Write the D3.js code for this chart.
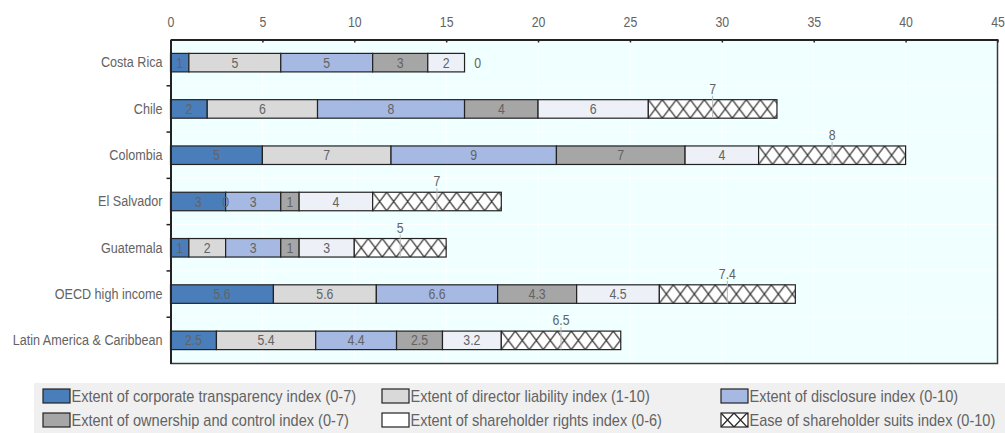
<!DOCTYPE html>
<html>
<head>
<meta charset="utf-8">
<script src="https://cdn.jsdelivr.net/npm/d3@7/dist/d3.min.js"></script>
<style>
  html, body { margin: 0; padding: 0; background: #ffffff; }
  svg { display: block; }
  text { font-family: "Liberation Sans", Arial, sans-serif; }
</style>
</head>
<body>
<svg id="chart" width="1005" height="433"></svg>
<script>
// Economies, top to bottom
const categories = ["Costa Rica", "Chile", "Colombia", "El Salvador", "Guatemala", "OECD high income", "Latin America & Caribbean"];

// Index scores per economy
const transparency = [1, 2, 5, 3, 1, 5.6, 2.5];
const directorLiability = [5, 6, 7, 0, 2, 5.6, 5.4];
const disclosure = [5, 8, 9, 3, 3, 6.6, 4.4];
const ownership = [3, 4, 7, 1, 1, 4.3, 2.5];
const shareholderRights = [2, 6, 4, 4, 3, 4.5, 3.2];
const shareholderSuits = [0, 7, 8, 7, 5, 7.4, 6.5];

const seriesNames = [
  "Extent of corporate transparency index (0-7)",
  "Extent of director liability index (1-10)",
  "Extent of disclosure index (0-10)",
  "Extent of ownership and control index (0-7)",
  "Extent of shareholder rights index (0-6)",
  "Ease of shareholder suits index (0-10)"
];
const xTicks = [0, 5, 10, 15, 20, 25, 30, 35, 40, 45];

const seriesValues = [transparency, directorLiability, disclosure, ownership, shareholderRights, shareholderSuits];
const fills = ["#4a7ebb", "#d9d9d9", "#a6b9e3", "#a6a6a6", "#eef0f8", "hatch"];
const textColor = "#636363";

const svg = d3.select("#chart");
const plotLeft = 170.5, plotRight = 997.5, plotTop = 39.5, plotBottom = 363.5;

const x = d3.scaleLinear().domain([0, 45]).range([plotLeft, plotRight]);
const y = d3.scaleBand().domain(categories).range([plotTop, plotBottom]).paddingInner(0.6).paddingOuter(0.3);

// Narrow lettering: squeeze text horizontally around its anchor point
function condense(sel, sx) {
  sel.each(function () {
    const t = d3.select(this);
    const tx = +t.attr("x") || 0, ty = +t.attr("y") || 0;
    t.attr("transform", `translate(${tx},${ty}) scale(${sx},1)`).attr("x", 0).attr("y", 0);
  });
}

const defs = svg.append("defs");

// Plot background
svg.append("rect")
  .attr("x", plotLeft).attr("y", plotTop)
  .attr("width", plotRight - plotLeft).attr("height", plotBottom - plotTop)
  .attr("fill", "#f0ffff");

// Vertical grid
svg.append("g").selectAll("line").data(xTicks.slice(1, -1)).join("line")
  .attr("x1", d => x(d)).attr("x2", d => x(d))
  .attr("y1", plotTop).attr("y2", plotBottom)
  .attr("stroke", "#ffffff").attr("stroke-width", 1);

// Horizontal grid at band boundaries
const boundaries = d3.range(1, categories.length).map(i => plotTop + i * y.step());
svg.append("g").selectAll("line").data(boundaries).join("line")
  .attr("x1", plotLeft).attr("x2", plotRight)
  .attr("y1", d => d).attr("y2", d => d)
  .attr("stroke", "#ffffff").attr("stroke-width", 1);

// Stack the series
const rows = categories.map((c, i) => {
  let acc = 0;
  return seriesValues.map((arr, s) => {
    const v = arr[i];
    const seg = { cat: c, series: s, value: v, x0: acc, x1: acc + v, row: i };
    acc += v;
    return seg;
  });
});
const segments = rows.flat();

// Cross-hatch patterns, one per row so the lattice lines up with each bar
const hatchW = 14, hatchH = y.bandwidth();
categories.forEach((c, i) => {
  const seg = rows[i][5];
  const p = defs.append("pattern")
    .attr("id", "hatch" + i)
    .attr("patternUnits", "userSpaceOnUse")
    .attr("x", x(seg.x0)).attr("y", y(c))
    .attr("width", hatchW).attr("height", hatchH);
  p.append("rect").attr("width", hatchW).attr("height", hatchH).attr("fill", "#ffffff");
  p.append("path")
    .attr("d", `M0,0L${hatchW},${hatchH}M${hatchW},0L0,${hatchH}`)
    .attr("stroke", "#2a2a2a").attr("stroke-width", 1.2).attr("fill", "none");
});
const lp = defs.append("pattern")
  .attr("id", "hatchLegend").attr("patternUnits", "userSpaceOnUse")
  .attr("x", 0).attr("y", 0).attr("width", 13).attr("height", 14);
lp.append("rect").attr("width", 13).attr("height", 14).attr("fill", "#ffffff");
lp.append("path").attr("d", "M0,0L13,14M13,0L0,14").attr("stroke", "#2a2a2a").attr("stroke-width", 1.3);

// Bars
svg.append("g").selectAll("rect").data(segments).join("rect")
  .attr("x", d => x(d.x0))
  .attr("y", d => y(d.cat))
  .attr("width", d => x(d.x1) - x(d.x0))
  .attr("height", y.bandwidth())
  .attr("fill", d => d.series === 5 ? `url(#hatch${d.row})` : fills[d.series])
  .attr("stroke", "#222222").attr("stroke-width", 1.2);

// Leader marks at the centre of the shareholder-suits segment
svg.append("g").selectAll("line").data(segments.filter(d => d.series === 5 && d.value > 0)).join("line")
  .attr("x1", d => x((d.x0 + d.x1) / 2)).attr("x2", d => x((d.x0 + d.x1) / 2))
  .attr("y1", d => y(d.cat) - 4).attr("y2", d => y(d.cat) + y.bandwidth())
  .attr("stroke", "#b8b8b8").attr("stroke-width", 1);

// Value labels inside bars
svg.append("g").selectAll("text").data(segments.filter(d => d.series < 5)).join("text")
  .attr("x", d => x((d.x0 + d.x1) / 2))
  .attr("y", d => y(d.cat) + y.bandwidth() / 2)
  .attr("dy", "0.36em")
  .attr("text-anchor", "middle")
  .attr("font-size", 14)
  .attr("fill", textColor)
  .text(d => d.value)
  .call(condense, 0.88);

// Shareholder-suits labels above the segment (or after the bar when zero)
svg.append("g").selectAll("text").data(segments.filter(d => d.series === 5)).join("text")
  .attr("x", d => d.value > 0 ? x((d.x0 + d.x1) / 2) : x(d.x1) + 13)
  .attr("y", d => d.value > 0 ? y(d.cat) - 6 : y(d.cat) + y.bandwidth() / 2)
  .attr("dy", d => d.value > 0 ? "0" : "0.36em")
  .attr("text-anchor", "middle")
  .attr("font-size", 14)
  .attr("fill", textColor)
  .text(d => d.value)
  .call(condense, 0.88);

// Frame: right and bottom edges
svg.append("path")
  .attr("d", `M${plotRight},${plotTop}V${plotBottom}H${plotLeft}`)
  .attr("fill", "none").attr("stroke", "#3a3a3a").attr("stroke-width", 1.5);

// Top axis
const xAxis = svg.append("g")
  .attr("transform", `translate(0,${plotTop})`)
  .call(d3.axisTop(x).tickValues(xTicks).tickSize(-3).tickSizeOuter(0).tickPadding(13));
xAxis.select(".domain").attr("stroke", "#222").attr("stroke-width", 2);
xAxis.selectAll(".tick line").attr("stroke", "#222").attr("stroke-width", 1.5);
xAxis.selectAll(".tick text")
  .attr("font-size", 14).attr("fill", textColor)
  .style("font-family", "\"Liberation Sans\", Arial, sans-serif")
  .call(condense, 0.88);

// Left axis: labels at band centres, ticks at band boundaries
const yAxis = svg.append("g")
  .attr("transform", `translate(${plotLeft},0)`)
  .call(d3.axisLeft(y).tickSize(0).tickPadding(8));
yAxis.select(".domain").attr("stroke", "#222").attr("stroke-width", 2);
yAxis.selectAll(".tick text")
  .attr("font-size", 15).attr("fill", textColor)
  .style("font-family", "\"Liberation Sans\", Arial, sans-serif")
  .call(condense, 0.84);
svg.append("g").selectAll("line").data(boundaries).join("line")
  .attr("x1", plotLeft - 4).attr("x2", plotLeft)
  .attr("y1", d => d).attr("y2", d => d)
  .attr("stroke", "#222").attr("stroke-width", 1.5);

// Legend
const legend = svg.append("g");
legend.append("rect")
  .attr("x", 34).attr("y", 383).attr("width", 971).attr("height", 50)
  .attr("fill", "#f0f0f0");
const colX = [43, 382, 721];
const rowY = [389, 413];
const items = legend.selectAll("g.item").data(seriesNames).join("g")
  .attr("class", "item")
  .attr("transform", (d, i) => `translate(${colX[i % 3]},${rowY[Math.floor(i / 3)]})`);
items.append("rect")
  .attr("width", 27).attr("height", 14)
  .attr("fill", (d, i) => i === 5 ? "url(#hatchLegend)" : (i === 4 ? "#ffffff" : fills[i]))
  .attr("stroke", "#222").attr("stroke-width", 1.2);
items.append("text")
  .attr("x", 28.5).attr("y", 7).attr("dy", "0.36em")
  .attr("font-size", 16).attr("fill", textColor)
  .text(d => d)
  .call(condense, 0.91);
</script>
</body>
</html>
